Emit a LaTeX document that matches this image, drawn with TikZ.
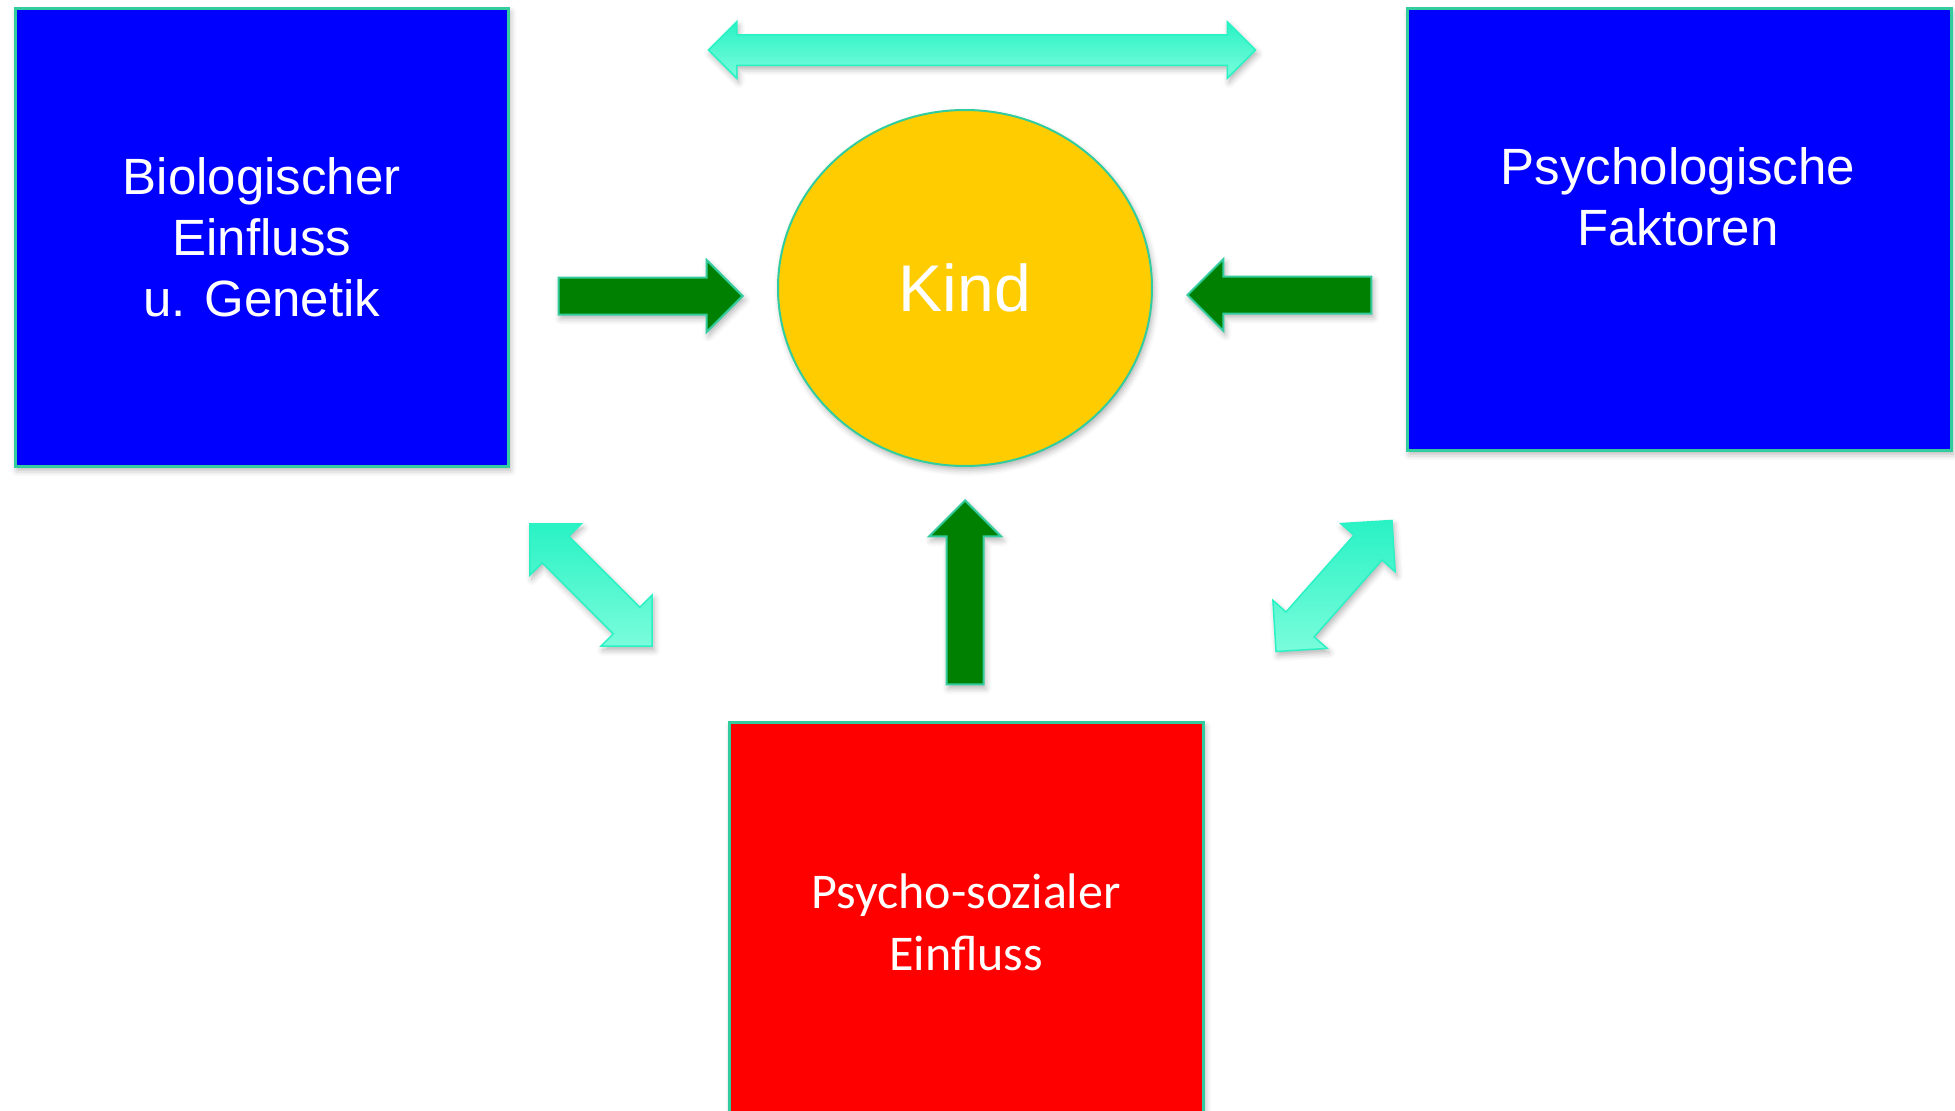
\documentclass[tikz,border=0pt]{standalone}
\usepackage{fontspec}
\setmainfont{Liberation Sans}
\newfontfamily\calibrifont{Carlito}
\usetikzlibrary{shapes.geometric,shapes.arrows,shadows.blur}
\definecolor{boxblue}{rgb}{0.0, 0.0, 1.0}
\definecolor{boxred}{rgb}{1.0, 0.0, 0.0}
\definecolor{kindgold}{rgb}{1.0, 0.8, 0.0}
\definecolor{arrowgreen}{rgb}{0.0, 0.5, 0.0}
\definecolor{edgeteal}{rgb}{0.2, 0.8, 0.62}
\definecolor{mintdark}{rgb}{0.16, 0.95, 0.77}
\definecolor{mintlight}{rgb}{0.48, 0.99, 0.86}

\tikzset{
  softshadow/.style={blur shadow={shadow xshift=2pt, shadow yshift=-4pt, shadow blur radius=6pt, shadow opacity=30}},
  factor/.style={rectangle, draw=edgeteal, line width=2.5pt, text=white, align=center, inner sep=0pt, anchor=north west, font=\fontsize{51}{61}\selectfont, softshadow},
  pusharrow/.style={single arrow, draw=edgeteal, fill=arrowgreen, line width=2pt, inner xsep=0pt, inner ysep=17.5pt, single arrow head extend=17.5pt, minimum height=184pt, anchor=tip, softshadow},
  linkarrow/.style={double arrow, draw=mintdark, top color=mintdark, bottom color=mintlight, line width=1.5pt, inner xsep=0pt, inner ysep=18pt, double arrow head extend=17.5pt, softshadow}
}

\begin{document}
\begin{tikzpicture}[x=1pt, y=-1pt]
    \useasboundingbox (0,0) rectangle (1955,1111);

    % Factors
    \node[factor, fill=boxblue, minimum width=493pt, minimum height=458pt] (bio) at (14,7) {Biologischer\\Einfluss\\u. Genetik};
    \node[factor, fill=boxblue, minimum width=544pt, minimum height=442pt] (psy) at (1406,7) {};
    \node[text=white, align=center, font=\fontsize{51}{61}\selectfont] (psyText) at (1678,197) {Psychologische\\Faktoren};
    \node[factor, fill=boxred, minimum width=474pt, minimum height=400pt, font=\calibrifont\fontsize{50}{62}\selectfont] (soz) at (728,721) {Psycho-sozialer\\Einfluss};

    % Child
    \node[ellipse, fill=kindgold, draw=edgeteal, line width=2pt, minimum width=374pt, minimum height=356pt, text=white, font=\fontsize{66}{70}\selectfont, softshadow] (kind) at (965,288) {Kind};

    % Influence arrows
    \node[pusharrow] (bioKind) at (744,296) {};
    \node[pusharrow, rotate=180] (psyKind) at (1186,295) {};
    \node[pusharrow, rotate=90] (sozKind) at (965,499) {};

    % Mutual arrows
    \node[linkarrow, minimum height=547pt, inner ysep=14.5pt, double arrow head extend=13pt] (bioPsy) at (982,50) {};
    \node[linkarrow, minimum height=173pt, rotate=-45] (bioSoz) at (591,585) {};
    \node[linkarrow, minimum height=175pt, rotate=48.5] (psySoz) at (1334,586) {};
\end{tikzpicture}
\end{document}
